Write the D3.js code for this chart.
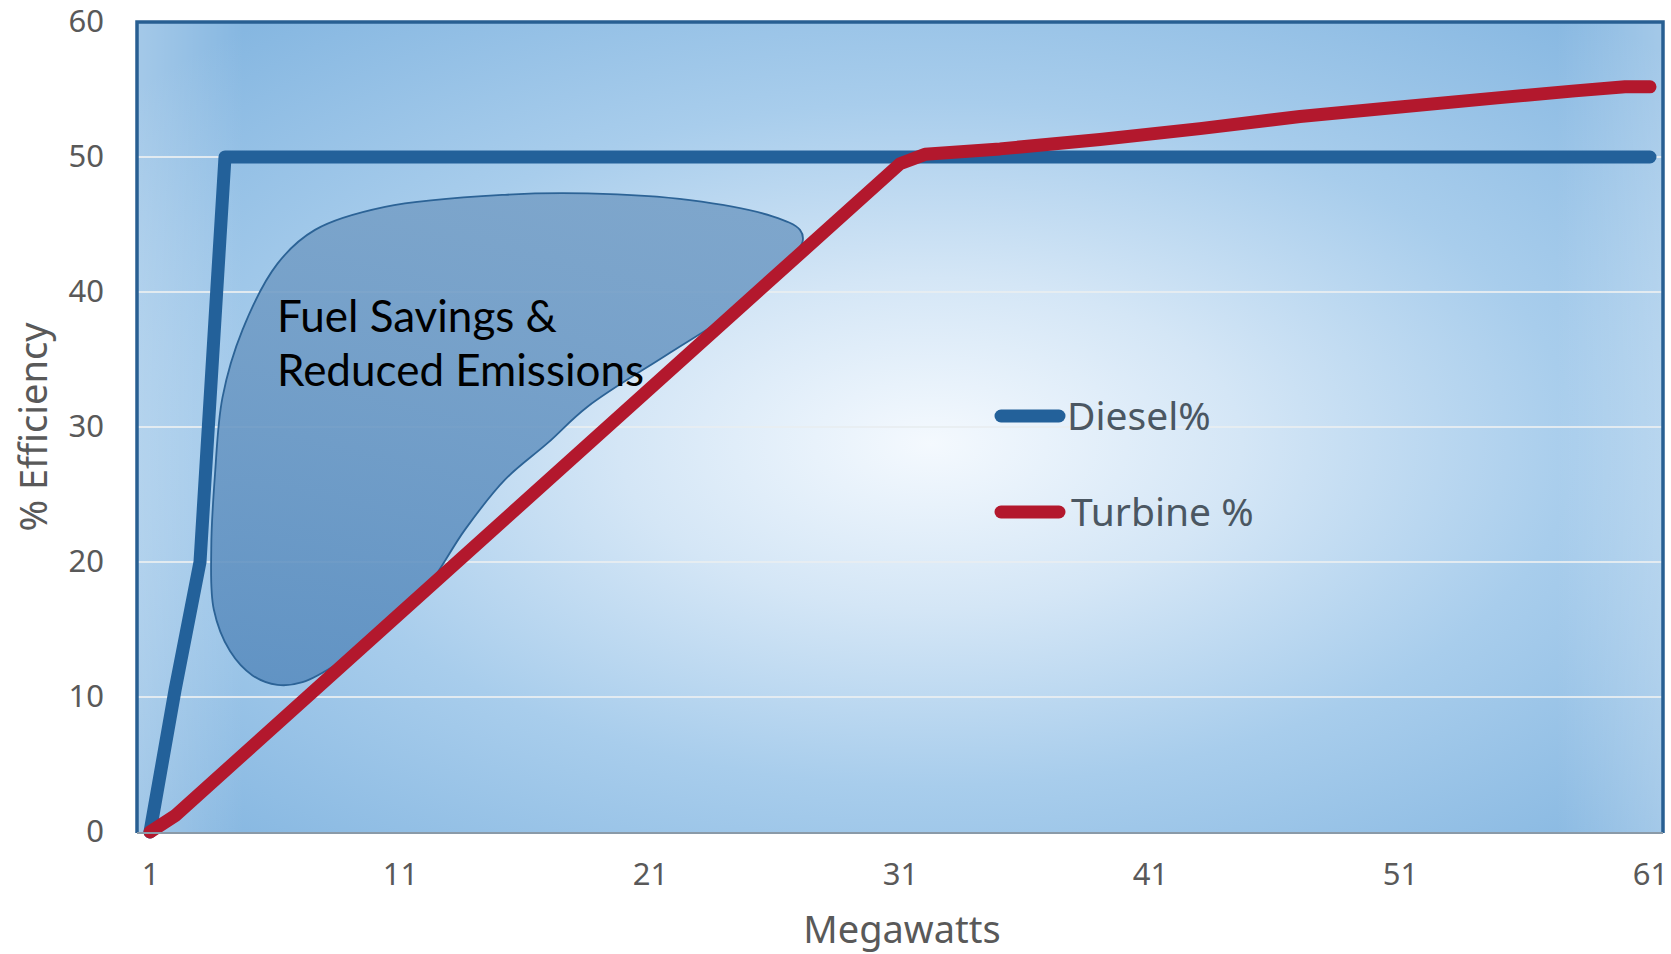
<!DOCTYPE html>
<html>
<head>
<meta charset="utf-8">
<script src="https://cdn.jsdelivr.net/npm/d3@7"></script>
<style>
  body { margin: 0; background: #fff; }
  text { font-family: "Noto Sans", sans-serif; }
</style>
</head>
<body>
<div id="chart"></div>
<script>
// Data
let dieselX = [1, 2, 3, 4, 61];
let dieselY = [0, 10.5, 20, 50, 50];

let turbineX = [1, 2, 31, 32, 35, 39, 43, 47, 51, 55, 58, 60, 61];
let turbineY = [0, 1.2, 49.5, 50.2, 50.6, 51.3, 52.1, 53.0, 53.7, 54.4, 54.9, 55.2, 55.2];

// outline of the "Fuel Savings" region, in chart units
let blobX = [6.1, 7.6, 10.4, 15.2, 18.5, 22.6, 25.9, 27.0, 27.1, 26.4, 24.2, 21.8, 18.5, 16.9, 15.2, 13.6, 12.0, 10.4, 8.7, 7.1, 6.1, 5.1, 4.2, 3.55, 3.45, 3.6, 3.9, 4.7];
let blobY = [42.1, 44.6, 46.3, 47.2, 47.3, 46.8, 45.6, 44.6, 43.7, 42.1, 38.4, 35.5, 31.5, 28.8, 26.1, 22.4, 17.9, 15.0, 12.7, 11.1, 10.9, 11.6, 13.4, 16.5, 21.0, 26.5, 32.2, 37.2];

let xTicks = [1, 11, 21, 31, 41, 51, 61];
let yTicks = [0, 10, 20, 30, 40, 50, 60];
let seriesNames = ["Diesel%", "Turbine %"];
let seriesColors = ["#23619a", "#b3182d"];

let width = 1671;
let height = 954;
let plot = { left: 137, right: 1663, top: 22, bottom: 833 };

let xScale = d3.scaleLinear().domain([1, 61]).range([150, 1650]);
let yScale = d3.scaleLinear().domain([0, 60]).range([832, 22]);

let svg = d3
  .select("#chart")
  .append("svg")
  .attr("width", width)
  .attr("height", height);

let defs = svg.append("defs");

// background gradients
let radial = defs
  .append("radialGradient")
  .attr("id", "bg-radial")
  .attr("cx", 0.52)
  .attr("cy", 0.52)
  .attr("r", 0.68);
radial.append("stop").attr("offset", 0).attr("stop-color", "#f4f9fe");
radial.append("stop").attr("offset", 0.3).attr("stop-color", "#d4e6f6");
radial.append("stop").attr("offset", 0.62).attr("stop-color", "#a8cdec");
radial.append("stop").attr("offset", 1).attr("stop-color", "#86b7e1");

let sides = defs
  .append("linearGradient")
  .attr("id", "bg-sides")
  .attr("x1", 0)
  .attr("x2", 1)
  .attr("y1", 0)
  .attr("y2", 0);
sides.append("stop").attr("offset", 0).attr("stop-color", "#fff").attr("stop-opacity", 0.25);
sides.append("stop").attr("offset", 0.07).attr("stop-color", "#fff").attr("stop-opacity", 0);
sides.append("stop").attr("offset", 0.93).attr("stop-color", "#fff").attr("stop-opacity", 0);
sides.append("stop").attr("offset", 1).attr("stop-color", "#fff").attr("stop-opacity", 0.25);

let blobGrad = defs
  .append("linearGradient")
  .attr("id", "blob-fill")
  .attr("x1", 0)
  .attr("x2", 0)
  .attr("y1", 0)
  .attr("y2", 1);
blobGrad.append("stop").attr("offset", 0).attr("stop-color", "#78a1c8");
blobGrad.append("stop").attr("offset", 1).attr("stop-color", "#5b8ec0");

// Plot background
svg
  .append("rect")
  .attr("x", plot.left)
  .attr("y", plot.top)
  .attr("width", plot.right - plot.left)
  .attr("height", plot.bottom - plot.top)
  .attr("fill", "url(#bg-radial)");
svg
  .append("rect")
  .attr("x", plot.left)
  .attr("y", plot.top)
  .attr("width", plot.right - plot.left)
  .attr("height", plot.bottom - plot.top)
  .attr("fill", "url(#bg-sides)");

// Gridlines
svg
  .append("g")
  .selectAll("line")
  .data(yTicks.filter(d => d > 0 && d < 60))
  .enter()
  .append("line")
  .attr("x1", plot.left)
  .attr("x2", plot.right)
  .attr("y1", d => yScale(d))
  .attr("y2", d => yScale(d))
  .attr("stroke", "#e8edf1")
  .attr("stroke-opacity", 0.9)
  .attr("stroke-width", 2);

// Fuel savings region
let blobLine = d3
  .line()
  .x(i => xScale(blobX[i]))
  .y(i => yScale(blobY[i]))
  .curve(d3.curveCatmullRomClosed.alpha(0.5));
svg
  .append("path")
  .attr("d", blobLine(d3.range(blobX.length)))
  .attr("fill", "url(#blob-fill)")
  .attr("fill-opacity", 0.9)
  .attr("stroke", "#2c6396")
  .attr("stroke-width", 1.8);

svg
  .append("text")
  .attr("x", 277)
  .attr("y", 332)
  .style("font-family", "Lato, sans-serif")
  .style("font-size", "44px")
  .attr("fill", "#000")
  .text("Fuel Savings &");
svg
  .append("text")
  .attr("x", 277)
  .attr("y", 386)
  .style("font-family", "Lato, sans-serif")
  .style("font-size", "44px")
  .attr("fill", "#000")
  .text("Reduced Emissions");

// Series lines
let line = d3
  .line()
  .x(d => xScale(d[0]))
  .y(d => yScale(d[1]));

let series = [
  d3.zip(dieselX, dieselY),
  d3.zip(turbineX, turbineY)
];

svg
  .append("g")
  .selectAll("path")
  .data(series)
  .enter()
  .append("path")
  .attr("d", d => line(d))
  .attr("fill", "none")
  .attr("stroke", (d, i) => seriesColors[i])
  .attr("stroke-width", 13)
  .attr("stroke-linecap", "round")
  .attr("stroke-linejoin", "round");

// Plot border
svg
  .append("path")
  .attr(
    "d",
    `M${plot.left},${plot.bottom} V${plot.top} H${plot.right} V${plot.bottom}`
  )
  .attr("fill", "none")
  .attr("stroke", "#285f92")
  .attr("stroke-width", 3.5);
svg
  .append("line")
  .attr("x1", plot.left)
  .attr("x2", plot.right)
  .attr("y1", plot.bottom)
  .attr("y2", plot.bottom)
  .attr("stroke", "#8a9aa8")
  .attr("stroke-width", 2);

// Axes
let xAxis = d3
  .axisBottom(xScale)
  .tickValues(xTicks)
  .tickSize(0)
  .tickPadding(30);
let yAxis = d3
  .axisLeft(yScale)
  .tickValues(yTicks)
  .tickSize(0)
  .tickPadding(0);

let gx = svg
  .append("g")
  .attr("transform", `translate(0, ${plot.bottom})`)
  .call(xAxis);
let gy = svg
  .append("g")
  .attr("transform", `translate(104, 0)`)
  .call(yAxis);
[gx, gy].forEach(g => {
  g.select(".domain").remove();
  g.selectAll("text")
    .style("font-family", "Noto Sans, sans-serif")
    .style("font-size", "31px")
    .attr("fill", "#595959");
});

// Axis titles
svg
  .append("text")
  .attr("x", (plot.left + plot.right) / 2 + 2)
  .attr("y", 943)
  .style("text-anchor", "middle")
  .style("font-size", "38px")
  .attr("fill", "#595959")
  .text("Megawatts");
svg
  .append("text")
  .attr("transform", `translate(47, 427) rotate(-90)`)
  .style("text-anchor", "middle")
  .style("font-size", "38px")
  .attr("fill", "#595959")
  .text("% Efficiency");

// Legend
let legend = svg
  .append("g")
  .selectAll("g")
  .data(seriesNames)
  .enter()
  .append("g")
  .attr("transform", (d, i) => `translate(1001, ${416 + i * 96})`);
legend
  .append("line")
  .attr("x1", 0)
  .attr("x2", 58)
  .attr("stroke", (d, i) => seriesColors[i])
  .attr("stroke-width", 13)
  .attr("stroke-linecap", "round");
legend
  .append("text")
  .attr("x", (d, i) => (i === 0 ? 66 : 70))
  .attr("y", 14)
  .style("font-size", "39px")
  .attr("fill", "#4b5762")
  .text(d => d);
</script>
</body>
</html>
